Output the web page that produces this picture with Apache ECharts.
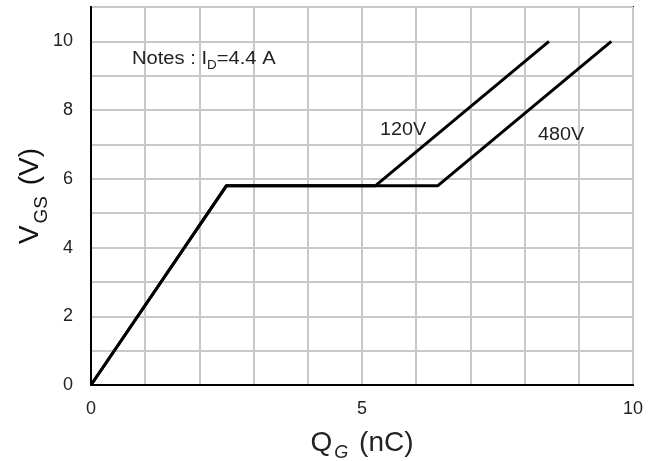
<!DOCTYPE html>
<html><head><meta charset="utf-8">
<script src="https://cdn.jsdelivr.net/npm/echarts@6/dist/echarts.min.js"></script>
<style>html,body{margin:0;padding:0;background:#fff}#c{width:657px;height:461px}</style>
</head><body><div id="c"></div>
<script>
const seriesNames = ['120V', '480V'];
const qg120 = [0, 2.5, 5.25, 8.45];
const vgs120 = [0, 5.8, 5.8, 10];
const qg480 = [0, 2.5, 6.4, 9.6];
const vgs480 = [0, 5.8, 5.8, 10];
const xTickLabels = [0, 5, 10];
const yTickLabels = [0, 2, 4, 6, 8, 10];

const zip = (a, b) => a.map((v, i) => [v, b[i]]);
const FONT = 'Liberation Sans, Arial, sans-serif';
const chart = echarts.init(document.getElementById('c'));
chart.setOption({
  animation: false,
  grid: { left: 91, right: 24, top: 7, bottom: 76, containLabel: false, outerBoundsMode: 'none',
    show: true, borderColor: '#000', borderWidth: 2, backgroundColor: 'transparent' },
  xAxis: {
    type: 'value', min: 0, max: 10, interval: 1,
    axisLine: { show: true, lineStyle: { color: '#000', width: 2 } },
    axisTick: { show: false },
    splitLine: { show: true, lineStyle: { color: '#c8c8c8', width: 2 } },
    axisLabel: { margin: 15, color: '#222', fontSize: 18, fontFamily: FONT,
      formatter: v => xTickLabels.includes(v) ? String(v) : '' },
    name: '{m|Q}{s|G}{m| (nC)}', nameLocation: 'middle', nameGap: 40, nameMoveOverlap: false,
    nameTextStyle: { rich: {
      m: { fontSize: 28, fontFamily: FONT, color: '#222', lineHeight: 32, verticalAlign: 'bottom' },
      s: { fontSize: 18, fontFamily: FONT, fontStyle: 'italic', color: '#222', lineHeight: 32, verticalAlign: 'bottom', padding: [0, 3, -5, 2] }
    } }
  },
  yAxis: {
    type: 'value', min: 0, max: 11, interval: 1,
    axisLine: { show: true, lineStyle: { color: '#000', width: 2 } },
    axisTick: { show: false },
    splitLine: { show: true, lineStyle: { color: '#c8c8c8', width: 2 } },
    axisLabel: { margin: 18, color: '#222', fontSize: 18, fontFamily: FONT,
      formatter: v => yTickLabels.includes(v) ? String(v) : '' },
    name: '{m|V}{s|GS}{m| (V)}', nameLocation: 'middle', nameRotate: 90, nameGap: 47, nameMoveOverlap: false,
    nameTextStyle: { rich: {
      m: { fontSize: 28, fontFamily: FONT, color: '#111', lineHeight: 32, verticalAlign: 'bottom' },
      s: { fontSize: 19, fontFamily: FONT, color: '#111', lineHeight: 32, verticalAlign: 'bottom', padding: [0, 3, -7, 2] }
    } }
  },
  graphic: [
    { type: 'text', left: 132, top: 50, z: 100, scaleX: 1.12, style: { text: '{n|Notes : I}{d|D}{n|=4.4 A}', rich: {
      n: { fontSize: 18, fontFamily: FONT, fill: '#222', lineHeight: 22, verticalAlign: 'bottom' },
      d: { fontSize: 12, fontFamily: FONT, fill: '#222', lineHeight: 22, verticalAlign: 'bottom', padding: [0, 0, -4, 0] }
    } } },
    { type: 'text', left: 380, top: 121, z: 100, scaleX: 1.1, style: { text: seriesNames[0], fontSize: 18, fontFamily: FONT, fill: '#222' } },
    { type: 'text', left: 538, top: 126, z: 100, scaleX: 1.1, style: { text: seriesNames[1], fontSize: 18, fontFamily: FONT, fill: '#222' } }
  ],
  series: [
    { name: seriesNames[1], type: 'line', data: zip(qg480, vgs480), showSymbol: false, lineStyle: { color: '#000', width: 3 }, z: 3 },
    { name: seriesNames[0], type: 'line', data: zip(qg120, vgs120), showSymbol: false, lineStyle: { color: '#000', width: 3 }, z: 3 }
  ]
});
</script></body></html>
